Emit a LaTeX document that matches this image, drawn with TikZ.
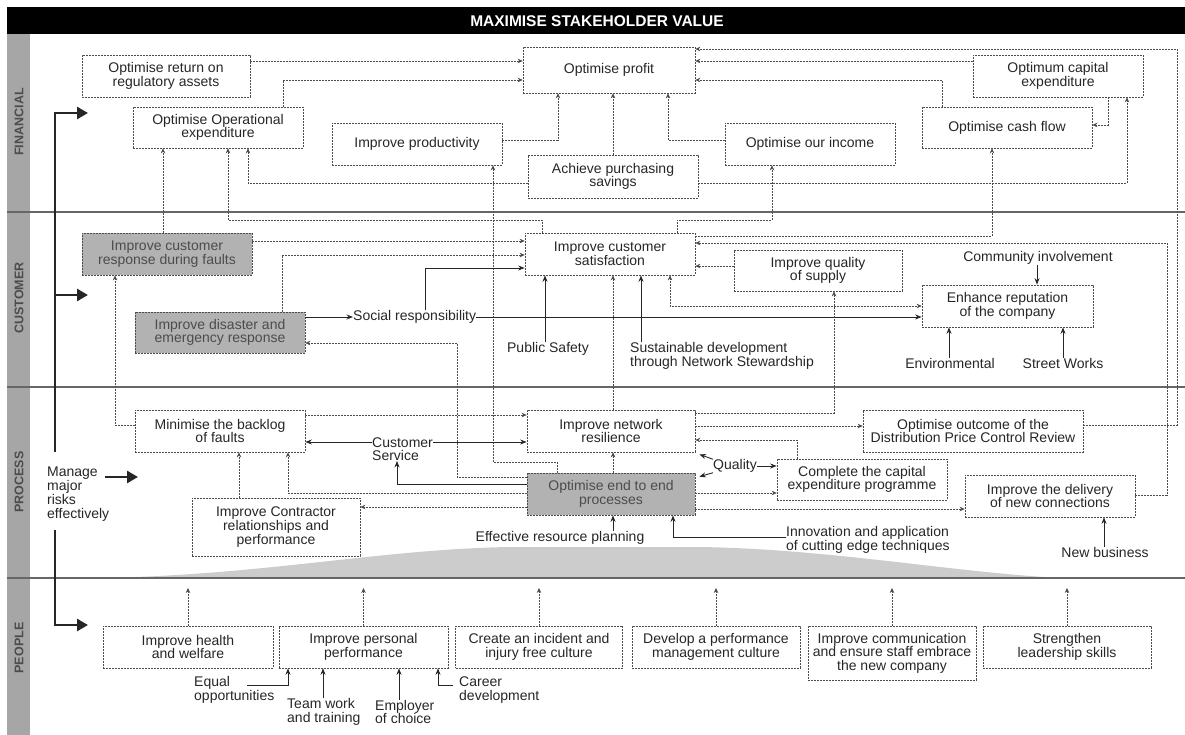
\documentclass[tikz,border=0pt]{standalone}
\usepackage{fontspec}
\setmainfont{Liberation Sans}
\usetikzlibrary{arrows.meta,calc}
\begin{document}
\begin{tikzpicture}[x=1pt,y=-1pt,
  font=\fontsize{14}{13.6}\selectfont,
  >={Stealth[length=5pt,width=4.5pt]},
  box/.style={draw=black!70, dash pattern=on 2pt off 1pt, line width=0.7pt, align=center, inner sep=1pt, text=black!85},
  gbox/.style={box, fill=black!30, text=black!70},
  lbl/.style={align=left, inner sep=0pt, text=black!85},
  clbl/.style={align=center, inner sep=0pt, text=black!85},
  dl/.style={draw=black!70, dash pattern=on 2pt off 1pt, line width=0.7pt, ->},
  sl/.style={draw=black!85, line width=0.9pt, -{Stealth[length=6.5pt,width=5pt]}},
  big/.style={draw=black!85, line width=2.6pt, -{Triangle[length=11pt,width=12pt]}},
  sep/.style={draw=black!60, line width=1.8pt},
  band/.style={rotate=90, font=\bfseries\fontsize{12.5}{12.5}\selectfont, text=black!70},
]
\useasboundingbox (0,0) rectangle (1185,735);
% background
\fill[black!35] (7,34) rectangle (30,735);
\fill[black] (7,7) rectangle (1185,34);
\node[text=white, font=\bfseries\fontsize{15.5}{15.5}\selectfont] (title) at (597,21) {MAXIMISE STAKEHOLDER VALUE};
\node[band] (lfin) at (19,122) {FINANCIAL};
\node[band] (lcus) at (19,298) {CUSTOMER};
\node[band] (lpro) at (19,482) {PROCESS};
\node[band] (lpeo) at (19,648) {PEOPLE};
\fill[black!20] (95,578) .. controls (260,576) and (380,549) .. (510,547) -- (700,547) .. controls (830,549) and (950,572) .. (1060,578) -- cycle;
\draw[sep] (7,212) -- (1185,212);
\draw[sep] (7,387) -- (1185,387);
\draw[sep] (7,578) -- (1185,578);

% FINANCIAL
\node[box,minimum width=168pt,minimum height=42pt] (ora) at (166,76) {Optimise return on\\regulatory assets};
\node[box,minimum width=170pt,minimum height=41pt] (opex) at (218,127.5) {Optimise Operational\\expenditure};
\node[box,minimum width=170pt,minimum height=42pt] (prod) at (417,144) {Improve productivity};
\node[box,minimum width=172pt,minimum height=46pt] (profit) at (609,70) {Optimise profit};
\node[box,minimum width=170pt,minimum height=43pt] (purch) at (613,176.5) {Achieve purchasing\\savings};
\node[box,minimum width=170pt,minimum height=42pt] (income) at (810,144) {Optimise our income};
\node[box,minimum width=170pt,minimum height=41pt] (cash) at (1007,127.5) {Optimise cash flow};
\node[box,minimum width=170pt,minimum height=42pt] (capex) at (1058,76) {Optimum capital\\expenditure};

% CUSTOMER
\node[gbox,minimum width=170pt,minimum height=42pt] (resp) at (167,254) {Improve customer\\response during faults};
\node[gbox,minimum width=170pt,minimum height=41pt] (disaster) at (220,332.5) {Improve disaster and\\emergency response};
\node[box,minimum width=170pt,minimum height=42pt] (sat) at (610,254) {Improve customer\\satisfaction};
\node[box,minimum width=168pt,minimum height=41pt] (quality) at (818,270.5) {Improve quality\\of supply};
\node[box,minimum width=171pt,minimum height=42pt] (rep) at (1007.5,306) {Enhance reputation\\of the company};
\node[lbl,anchor=west] (social) at (353,317) {Social responsibility};
\node[clbl] (public) at (548,349) {Public Safety};
\node[lbl,anchor=west] (sustain) at (630,356) {Sustainable development\\through Network Stewardship};
\node[clbl] (community) at (1038,258) {Community involvement};
\node[clbl] (env) at (950,363) {Environmental};
\node[clbl] (street) at (1063,363) {Street Works};

% PROCESS
\node[box,minimum width=170pt,minimum height=42pt] (backlog) at (220,431) {Minimise the backlog\\of faults};
\node[lbl,anchor=west] (custserv) at (372,449) {Customer\\Service};
\node[box,minimum width=168pt,minimum height=42pt] (resil) at (611,431) {Improve network\\resilience};
\node[gbox,minimum width=168pt,minimum height=42pt] (e2e) at (611,494) {Optimise end to end\\processes};
\node[box,minimum width=168pt,minimum height=58pt] (contractor) at (276,527) {Improve Contractor\\relationships and\\performance};
\node[clbl] (qual) at (735,466) {Quality};
\node[box,minimum width=170pt,minimum height=41pt] (capprog) at (862,479.5) {Complete the capital\\expenditure programme};
\node[box,minimum width=220pt,minimum height=42pt] (dpcr) at (973,431) {Optimise outcome of the\\Distribution Price Control Review};
\node[box,minimum width=170pt,minimum height=42pt] (newconn) at (1050,496) {Improve the delivery\\of new connections};
\node[clbl] (newbiz) at (1105,552) {New business};
\node[clbl] (effective) at (560,538) {Effective resource planning};
\node[lbl,anchor=west] (innov) at (786,540) {Innovation and application\\of cutting edge techniques};
\node[lbl,anchor=west,font=\fontsize{14}{14}\selectfont] (manage) at (47,494) {Manage\\major\\risks\\effectively};

% PEOPLE
\node[box,minimum width=170pt,minimum height=42pt] (health) at (188,647) {Improve health\\and welfare};
\node[box,minimum width=169pt,minimum height=42pt] (personal) at (363.5,647) {Improve personal\\performance};
\node[box,minimum width=167pt,minimum height=42pt] (incident) at (539,647) {Create an incident and\\injury free culture};
\node[box,minimum width=168pt,minimum height=42pt] (develop) at (716,647) {Develop a performance\\management culture};
\node[box,minimum width=168pt,minimum height=54pt] (comm) at (892,653) {Improve communication\\and ensure staff embrace\\the new company};
\node[box,minimum width=168pt,minimum height=42pt] (strength) at (1067,647) {Strengthen\\leadership skills};
\node[lbl,anchor=west] (equal) at (194,690) {Equal\\opportunities};
\node[lbl,anchor=west] (team) at (287,712) {Team work\\and training};
\node[lbl,anchor=west] (employer) at (375,712) {Employer\\of choice};
\node[lbl,anchor=west] (career) at (459,690) {Career\\development};

% left thick arrows
\coordinate (fa) at (88,113);
\coordinate (ca) at (88,295);
\coordinate (pa) at (88,625);
\coordinate (v1) at (55,452);
\coordinate (v2) at (55,530);
\coordinate (ms) at (105,477);
\coordinate (ma) at (138,477);
\draw[big] (v1) |- (fa);
\draw[big] (v1 |- ca) -- (ca);
\draw[big] (v2) |- (pa);
\draw[big] (ms) -- (ma);

% FINANCIAL connectors
\draw[dl] (ora.east |- 0,61) -- (profit.west |- 0,61);
\draw[dl] (opex.north -| 283,0) |- (profit.west |- 0,80);
\draw[dl] (prod.east |- 0,140) -| (profit.south -| 558,0);
\draw[dl] (purch.north) -- (purch.north |- profit.south);
\draw[dl] (income.west |- 0,140) -| (profit.south -| 668,0);
\draw[dl] (capex.west |- 0,61) -- (profit.east |- 0,61);
\draw[dl] (cash.north -| 942,0) |- (profit.east |- 0,80);
\draw[dl] (capex.south -| 1108,0) |- (cash.east |- 0,125);
\draw[dl] (purch.west |- 0,183) -| (opex.south -| 248,0);
\draw[dl] (purch.east |- 0,183) -| (capex.south -| 1127,0);
\draw[dl] (dpcr.east |- 0,425) -| (1177,49) -- (profit.east |- 0,49);
\draw[dl] (resp.north -| 163,0) -- (opex.south -| 163,0);
\draw[dl] (sat.north -| 542,0) -- (542,220) -| (opex.south -| 228,0);
\draw[dl] (sat.north -| 677,0) -- (677,220) -| (income.south -| 772,0);
\draw[dl] (sat.east |- 0,236) -| (cash.south -| 992,0);
\draw[dl] (newconn.east |- 0,495) -| (1167,243) -- (sat.east |- 0,243);
\draw[dl] (e2e.north -| 557,0) -- (557,462) -| (prod.south -| 493,0);
\draw[dl] (e2e.west |- 0,477) -| (457,343) -- (disaster.east |- 0,343);

% CUSTOMER connectors
\draw[dl] (resp.east |- 0,241) -- (sat.west |- 0,241);
\draw[dl] (disaster.north -| 282,0) |- (sat.west |- 0,255);
\draw[sl] (disaster.east |- 0,317) -- (social.west);
\draw[sl] (social.east) -- (rep.west |- 0,317);
\draw[sl] (social.north -| 425,0) |- (sat.west |- 0,268);
\draw[sl] (public.north -| 545,0) -- (sat.south -| 545,0);
\draw[sl] (sustain.north -| 641,0) -- (sat.south -| 641,0);
\draw[dl] (resil.north -| 613,0) -- (sat.south -| 613,0);
\draw[dl,<->] (sat.south -| 670,0) |- (rep.west |- 0,306);
\draw[dl] (quality.west |- 0,266) -- (sat.east |- 0,266);
\draw[dl] (resil.east |- 0,413) -| (quality.south -| 834,0);
\draw[sl] (community.south -| 1037,0) -- (rep.north -| 1037,0);
\draw[sl] (env.north -| 949,0) -- (rep.south -| 949,0);
\draw[sl] (street.north -| 1063,0) -- (rep.south -| 1063,0);
\draw[dl] (backlog.west |- 0,425) -| (resp.south -| 115,0);

% PROCESS connectors
\draw[dl] (backlog.east |- 0,415) -- (resil.west |- 0,415);
\draw[sl] (custserv.west |- 0,442) -- (backlog.east |- 0,442);
\draw[sl] (custserv.east |- 0,442) -- (resil.west |- 0,442);
\draw[sl] (e2e.west |- 0,484) -| (custserv.south -| 397,0);
\draw[dl] (e2e.west |- 0,493) -| (backlog.south -| 288,0);
\draw[dl] (e2e.west |- 0,507) -- (contractor.east |- 0,507);
\draw[dl] (contractor.north -| 239,0) -- (backlog.south -| 239,0);
\draw[dl] (e2e.north -| 613,0) -- (resil.south -| 613,0);
\draw[sl] (qual.north west) -- ([shift={(4,2)}]resil.south east);
\draw[sl] (qual.south west) -- ([shift={(4,4)}]e2e.north east);
\draw[sl] (qual.east) -- (capprog.west |- qual.east);
\draw[dl] (capprog.north -| 797,0) |- (resil.east |- 0,440);
\draw[dl] (resil.east |- 0,426) -- (dpcr.west |- 0,426);
\draw[dl] (e2e.east |- 0,493) -- (capprog.west |- 0,493);
\draw[dl] (e2e.east |- 0,509) -- (newconn.west |- 0,509);
\draw[sl] (innov.west |- 0,537) -| (e2e.south -| 673,0);
\draw[sl] (effective.north -| 613,0) -- (e2e.south -| 613,0);
\draw[sl] (newbiz.north -| 1104,0) -- (newconn.south -| 1104,0);

% PEOPLE connectors
\draw[dl] (health.north) -- (health.north |- 0,588);
\draw[dl] (personal.north) -- (personal.north |- 0,588);
\draw[dl] (incident.north) -- (incident.north |- 0,588);
\draw[dl] (develop.north) -- (develop.north |- 0,588);
\draw[dl] (comm.north) -- (comm.north |- 0,588);
\draw[dl] (strength.north) -- (strength.north |- 0,588);
\coordinate (eqs) at (247,685);
\coordinate (cas) at (453,685);
\draw[sl,line width=0.8pt] (eqs) -| (personal.south -| 288,0);
\draw[sl,line width=0.8pt] (team.north -| 323,0) -- (personal.south -| 323,0);
\draw[sl,line width=0.8pt] (employer.north -| 399,0) -- (personal.south -| 399,0);
\draw[sl,line width=0.8pt] (cas) -| (personal.south -| 438,0);
\end{tikzpicture}
\end{document}
